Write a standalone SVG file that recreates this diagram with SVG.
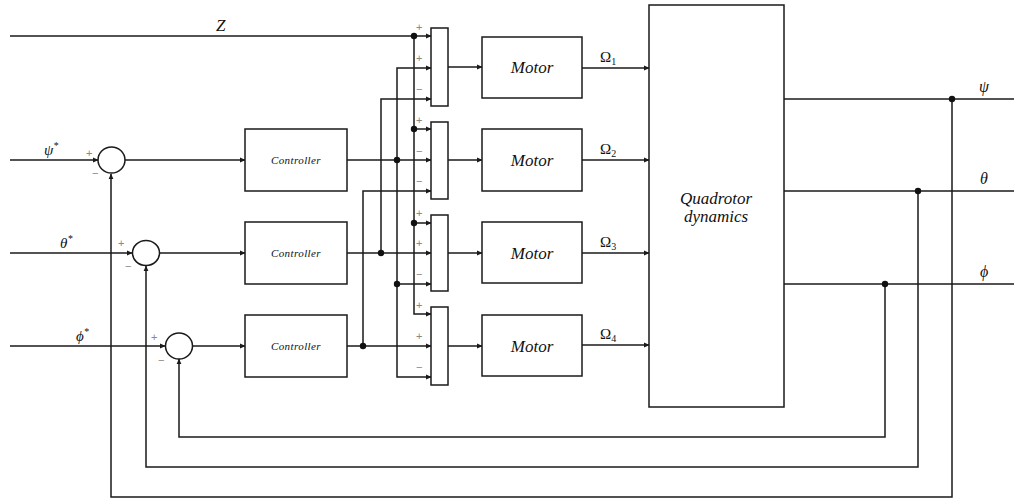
<svg xmlns="http://www.w3.org/2000/svg" width="1014" height="501" viewBox="0 0 1014 501">
<defs>
<marker id="ar" markerWidth="6" markerHeight="6" refX="5" refY="3" orient="auto" markerUnits="userSpaceOnUse">
<path d="M0,0.6 L5.5,3 L0,5.4 Z" fill="#1a1a1a"/>
</marker>
</defs>
<style>
.ln{fill:none;stroke:#1a1a1a;stroke-width:1.5}
.bx{fill:#fff;stroke:#1a1a1a;stroke-width:1.5}
.dot{fill:#111}
.m{font-family:"Liberation Serif",serif;font-style:italic;fill:#111}
.r{font-family:"Liberation Serif",serif;fill:#111}
.sg{font-family:"Liberation Sans",sans-serif;fill:#888;font-size:11px}
</style>
<rect width="1014" height="501" fill="#fff"/>

<g id="connectors">
<path class="ln" d="M10 160 H98" marker-end="url(#ar)"/>
<path class="ln" d="M10 253 H132" marker-end="url(#ar)"/>
<path class="ln" d="M10 346 H165" marker-end="url(#ar)"/>
<path class="ln" d="M10 36 H431" marker-end="url(#ar)"/>
<path class="ln" d="M125 160 H245" marker-end="url(#ar)"/>
<path class="ln" d="M160 253 H245" marker-end="url(#ar)"/>
<path class="ln" d="M193 346 H245" marker-end="url(#ar)"/>
<path class="ln" d="M414 36 V314 H431" marker-end="url(#ar)"/>
<path class="ln" d="M414 129 H431" marker-end="url(#ar)"/>
<path class="ln" d="M414 223 H431" marker-end="url(#ar)"/>
<path class="ln" d="M347 160 H431" marker-end="url(#ar)"/>
<path class="ln" d="M397 160 V68 H431" marker-end="url(#ar)"/>
<path class="ln" d="M397 160 V377 H431" marker-end="url(#ar)"/>
<path class="ln" d="M397 284 H431" marker-end="url(#ar)"/>
<path class="ln" d="M347 253 H431" marker-end="url(#ar)"/>
<path class="ln" d="M381 253 V99 H431" marker-end="url(#ar)"/>
<path class="ln" d="M347 346 H431" marker-end="url(#ar)"/>
<path class="ln" d="M363 346 V191 H431" marker-end="url(#ar)"/>
<path class="ln" d="M448 67 H482" marker-end="url(#ar)"/>
<path class="ln" d="M448 160 H482" marker-end="url(#ar)"/>
<path class="ln" d="M448 253 H482" marker-end="url(#ar)"/>
<path class="ln" d="M448 346 H482" marker-end="url(#ar)"/>
<path class="ln" d="M582 68 H649" marker-end="url(#ar)"/>
<path class="ln" d="M582 160 H649" marker-end="url(#ar)"/>
<path class="ln" d="M582 253 H649" marker-end="url(#ar)"/>
<path class="ln" d="M582 345 H649" marker-end="url(#ar)"/>
<path class="ln" d="M784 99 H1014"/>
<path class="ln" d="M784 191 H1014"/>
<path class="ln" d="M784 284 H1014"/>
<path class="ln" d="M885 284 V437 H179 V359" marker-end="url(#ar)"/>
<path class="ln" d="M918 191 V467 H146 V266" marker-end="url(#ar)"/>
<path class="ln" d="M952 99 V497 H111 V174" marker-end="url(#ar)"/>
<circle class="dot" cx="414" cy="36" r="3.2"/>
<circle class="dot" cx="414" cy="129" r="3.2"/>
<circle class="dot" cx="414" cy="223" r="3.2"/>
<circle class="dot" cx="397" cy="160" r="3.2"/>
<circle class="dot" cx="397" cy="284" r="3.2"/>
<circle class="dot" cx="381" cy="253" r="3.2"/>
<circle class="dot" cx="363" cy="346" r="3.2"/>
<circle class="dot" cx="952" cy="99" r="3.2"/>
<circle class="dot" cx="918" cy="191" r="3.2"/>
<circle class="dot" cx="885" cy="284" r="3.2"/>
</g>

<g id="sum1">
<ellipse class="bx" cx="111.5" cy="160" rx="13.5" ry="13"/>
<text class="sg" x="86" y="157">+</text>
<text class="sg" x="92" y="177">−</text>
</g>
<g id="sum2">
<ellipse class="bx" cx="146" cy="253" rx="13.5" ry="12.5"/>
<text class="sg" x="118" y="247">+</text>
<text class="sg" x="125" y="270">−</text>
</g>
<g id="sum3">
<ellipse class="bx" cx="179" cy="346" rx="13.5" ry="13"/>
<text class="sg" x="151" y="341">+</text>
<text class="sg" x="158" y="364">−</text>
</g>

<g id="ctrl1"><rect class="bx" x="245" y="129" width="102" height="62"/><text class="m" x="296" y="164" font-size="11" letter-spacing="0.4" text-anchor="middle">Controller</text></g>
<g id="ctrl2"><rect class="bx" x="245" y="222" width="102" height="62"/><text class="m" x="296" y="257" font-size="11" letter-spacing="0.4" text-anchor="middle">Controller</text></g>
<g id="ctrl3"><rect class="bx" x="245" y="315" width="102" height="62"/><text class="m" x="296" y="350" font-size="11" letter-spacing="0.4" text-anchor="middle">Controller</text></g>

<g id="mix1"><rect class="bx" x="431" y="28" width="17" height="78"/>
<text class="sg" x="416" y="31">+</text><text class="sg" x="416" y="62">+</text><text class="sg" x="416" y="93">−</text></g>
<g id="mix2"><rect class="bx" x="431" y="122" width="17" height="77"/>
<text class="sg" x="416" y="124">+</text><text class="sg" x="416" y="155">−</text><text class="sg" x="416" y="185">−</text></g>
<g id="mix3"><rect class="bx" x="431" y="215" width="17" height="76"/>
<text class="sg" x="416" y="217">+</text><text class="sg" x="416" y="247">+</text><text class="sg" x="416" y="278">−</text></g>
<g id="mix4"><rect class="bx" x="431" y="307" width="17" height="78"/>
<text class="sg" x="416" y="309">+</text><text class="sg" x="416" y="340">+</text><text class="sg" x="416" y="371">−</text></g>

<g id="motor1"><rect class="bx" x="482" y="37" width="100" height="61"/><text class="m" x="532" y="73" font-size="17" text-anchor="middle">Motor</text></g>
<g id="motor2"><rect class="bx" x="482" y="129" width="100" height="62"/><text class="m" x="532" y="166" font-size="17" text-anchor="middle">Motor</text></g>
<g id="motor3"><rect class="bx" x="482" y="222" width="100" height="61"/><text class="m" x="532" y="259" font-size="17" text-anchor="middle">Motor</text></g>
<g id="motor4"><rect class="bx" x="482" y="315" width="100" height="61"/><text class="m" x="532" y="352" font-size="17" text-anchor="middle">Motor</text></g>

<g id="dynamics"><rect class="bx" x="649" y="5" width="135" height="402"/>
<text class="m" x="716" y="204" font-size="17" text-anchor="middle">Quadrotor</text>
<text class="m" x="716" y="222" font-size="17" text-anchor="middle">dynamics</text></g>

<g id="labels">
<text class="m" x="216" y="31" font-size="17">Z</text>
<text class="m" x="44" y="155" font-size="15">ψ<tspan font-size="10" dy="-6">*</tspan></text>
<text class="m" x="60" y="248" font-size="15">θ<tspan font-size="10" dy="-6">*</tspan></text>
<text class="m" x="76" y="341" font-size="15">ϕ<tspan font-size="10" dy="-6">*</tspan></text>
<text class="r" x="600" y="62" font-size="15">Ω<tspan font-size="10" dy="3">1</tspan></text>
<text class="r" x="600" y="154" font-size="15">Ω<tspan font-size="10" dy="3">2</tspan></text>
<text class="r" x="600" y="247" font-size="15">Ω<tspan font-size="10" dy="3">3</tspan></text>
<text class="r" x="600" y="339" font-size="15">Ω<tspan font-size="10" dy="3">4</tspan></text>
<text class="m" x="979" y="92" font-size="16">ψ</text>
<text class="m" x="980" y="184" font-size="16">θ</text>
<text class="m" x="980" y="277" font-size="16">ϕ</text>
</g>
</svg>
